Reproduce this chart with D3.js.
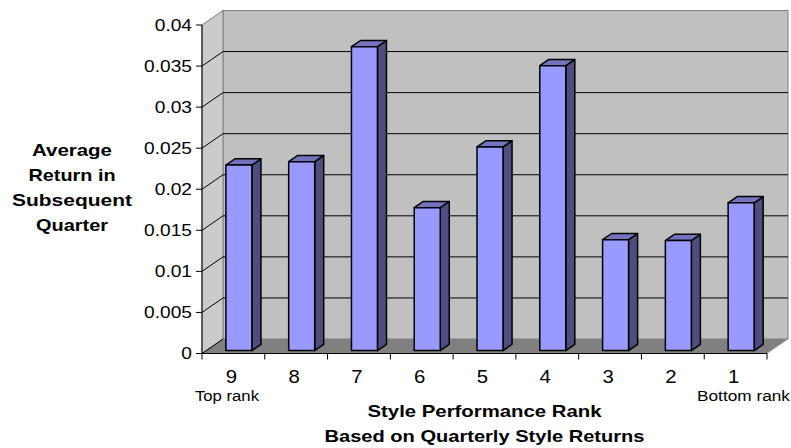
<!DOCTYPE html>
<html>
<head>
<meta charset="utf-8">
<script src="https://cdn.jsdelivr.net/npm/d3@7"></script>
<style>
  html, body { margin: 0; padding: 0; background: #fff; }
  svg { display: block; font-family: "Liberation Sans", Arial, sans-serif; }
</style>
</head>
<body>
<svg id="chart" width="791" height="448"></svg>
<script>
const categories = ["9", "8", "7", "6", "5", "4", "3", "2", "1"];
const values = [0.0226, 0.0230, 0.0370, 0.0174, 0.0248, 0.0347, 0.0135, 0.0134, 0.0180];
const yTicks = [0, 0.005, 0.01, 0.015, 0.02, 0.025, 0.03, 0.035, 0.04];
const yTickLabels = ["0", "0.005", "0.01", "0.015", "0.02", "0.025", "0.03", "0.035", "0.04"];
const yTitleLines = ["Average", "Return in", "Subsequent", "Quarter"];
const xTitleLines = ["Style Performance Rank", "Based on Quarterly Style Returns"];
const endLabels = ["Top rank", "Bottom rank"];

const svg = d3.select("#chart");

// geometry
const X0 = 202, X1 = 767, Y0 = 353.5, Y1 = 25;
const DX = 21, DY = -14.5; // depth offset of back wall
const x = d3.scaleBand().domain(categories).range([X0, X1]).padding(0);
const y = d3.scaleLinear().domain([0, 0.04]).range([Y0, Y1]);
const bw = x.bandwidth();

// walls
const gWalls = svg.append("g");
gWalls.append("rect")
  .attr("x", X0 + DX).attr("y", Y1 + DY)
  .attr("width", X1 - X0).attr("height", Y0 - Y1)
  .attr("fill", "#c0c0c0").attr("stroke", "#808080").attr("stroke-width", 1);
gWalls.append("polygon")
  .attr("points", [[X0, Y1], [X0 + DX, Y1 + DY], [X0 + DX, Y0 + DY], [X0, Y0]].map(p => p.join(",")).join(" "))
  .attr("fill", "#cbcbcb").attr("stroke", "#808080").attr("stroke-width", 1);
gWalls.append("polygon")
  .attr("points", [[X0, Y0], [X1, Y0], [X1 + DX, Y0 + DY], [X0 + DX, Y0 + DY]].map(p => p.join(",")).join(" "))
  .attr("fill", "#808080");
gWalls.append("line")
  .attr("x1", X1).attr("y1", Y0).attr("x2", X1 + DX).attr("y2", Y0 + DY)
  .attr("stroke", "#a8a8a8").attr("stroke-width", 1);

// gridlines
const gGrid = svg.append("g").attr("stroke", "#000").attr("stroke-width", 1).attr("fill", "none");
yTicks.filter(v => v < 0.04).forEach(v => {
  const yy = y(v);
  if (v > 0) {
    gGrid.append("line").attr("x1", X0 + DX).attr("x2", X1 + DX).attr("y1", yy + DY).attr("y2", yy + DY);
  }
  gGrid.append("line").attr("x1", X0).attr("y1", yy).attr("x2", X0 + DX).attr("y2", yy + DY);
});

// bars
const fd = 0.2;      // front face depth fraction
const bd = 0.43;     // bar depth fraction
const bOff = 0.314;  // offset within band
const bWid = 0.414;  // bar width fraction
const fdx = fd * DX, fdy = fd * DY, ddx = bd * DX, ddy = bd * DY;
const gBars = svg.append("g").attr("stroke", "#000").attr("stroke-width", 1.5).attr("stroke-linejoin", "round");
categories.forEach((c, i) => {
  const v = values[i];
  const l = x(c) + bOff * bw + fdx;
  const r = l + bWid * bw;
  const t = y(v) + fdy;
  const b = y(0) + fdy;
  const g = gBars.append("g");
  g.append("polygon")
    .attr("points", [[r, t], [r + ddx, t + ddy], [r + ddx, b + ddy], [r, b]].map(p => p.join(",")).join(" "))
    .attr("fill", "#4d4d80");
  g.append("polygon")
    .attr("points", [[l, t], [l + ddx, t + ddy], [r + ddx, t + ddy], [r, t]].map(p => p.join(",")).join(" "))
    .attr("fill", "#7373bf");
  g.append("rect")
    .attr("x", l).attr("y", t).attr("width", r - l).attr("height", b - t)
    .attr("fill", "#9999ff");
});

// axes
const gAxis = svg.append("g").attr("stroke", "#000").attr("stroke-width", 1);
gAxis.append("line").attr("x1", X0).attr("x2", X0).attr("y1", Y1).attr("y2", Y0);
gAxis.append("line").attr("x1", X0).attr("x2", X1).attr("y1", Y0).attr("y2", Y0);
yTicks.forEach(v => {
  gAxis.append("line").attr("x1", X0 - 6).attr("x2", X0).attr("y1", y(v)).attr("y2", y(v));
});
categories.forEach(c => {
  gAxis.append("line").attr("x1", x(c)).attr("x2", x(c)).attr("y1", Y0).attr("y2", Y0 + 6);
});
gAxis.append("line").attr("x1", X1).attr("x2", X1).attr("y1", Y0).attr("y2", Y0 + 6);

function stretch(sel, k) {
  sel.each(function () {
    const w = this.getComputedTextLength();
    d3.select(this).attr("textLength", w * k).attr("lengthAdjust", "spacingAndGlyphs");
  });
}

// y tick labels
const gYL = svg.append("g").attr("font-size", 16.5).attr("fill", "#000").attr("text-anchor", "end");
yTicks.forEach((v, i) => {
  gYL.append("text").attr("x", 192).attr("y", y(v)).attr("dy", "0.36em").text(yTickLabels[i]);
});
stretch(gYL.selectAll("text"), 1.16);

// x tick labels
const gXL = svg.append("g").attr("font-size", 18.5).attr("fill", "#000").attr("text-anchor", "middle");
categories.forEach(c => {
  gXL.append("text").attr("x", x(c) + bw / 2 - 2).attr("y", 382.5).text(c);
});
stretch(gXL.selectAll("text"), 1.1);

// end labels
svg.append("text").attr("x", 195).attr("y", 400.5).attr("font-size", 14)
  .attr("textLength", 64).attr("lengthAdjust", "spacingAndGlyphs").text(endLabels[0]);
svg.append("text").attr("x", 697).attr("y", 400.5).attr("font-size", 14)
  .attr("textLength", 93).attr("lengthAdjust", "spacingAndGlyphs").text(endLabels[1]);

// x title
const xtW = [234, 320];
xTitleLines.forEach((t, i) => {
  svg.append("text").attr("x", (X0 + X1) / 2 - xtW[i] / 2).attr("y", 417 + i * 25)
    .attr("font-size", 16.5).attr("font-weight", "bold")
    .attr("textLength", xtW[i]).attr("lengthAdjust", "spacingAndGlyphs").text(t);
});

// y title
const ytW = [80, 87, 120, 72];
yTitleLines.forEach((t, i) => {
  svg.append("text").attr("x", 72 - ytW[i] / 2).attr("y", 156 + i * 25)
    .attr("font-size", 17).attr("font-weight", "bold")
    .attr("textLength", ytW[i]).attr("lengthAdjust", "spacingAndGlyphs").text(t);
});
</script>
</body>
</html>
